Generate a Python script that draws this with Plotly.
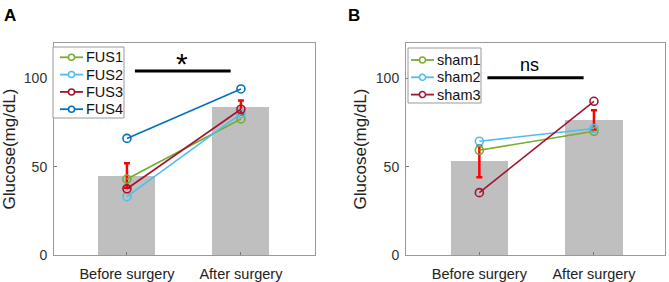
import plotly.graph_objects as go

categories = ["Before surgery", "After surgery"]

# Panel A (FUS)
fus_bar = [45, 83.5]
fus_err = [7, 4]
fus_names = ["FUS1", "FUS2", "FUS3", "FUS4"]
fus1 = [43, 77]
fus2 = [33, 80]
fus3 = [37.5, 82.5]
fus4 = [66, 94]
fus_sig_label = "*"

# Panel B (sham)
sham_bar = [53, 76.5]
sham_err = [9, 5.5]
sham_names = ["sham1", "sham2", "sham3"]
sham1 = [59.3, 70]
sham2 = [64.4, 71.6]
sham3 = [35.3, 87]
sham_sig_label = "ns"

sig_y = [104.2, 100.3]

colors = ["#77AC30", "#4DBEEE", "#A2142F", "#0072BD"]
xpos = [1, 2]

W, H = 669, 282
def px(x):
    return x / W
def py(y):
    return 1 - y / H

fig = go.Figure()

def add_panel(xa, ya, bar, err, series, names):
    fig.add_trace(go.Bar(x=xpos, y=bar, width=0.5, marker=dict(color="#BFBFBF", line=dict(width=0)),
                         xaxis=xa, yaxis=ya, showlegend=False, hoverinfo="skip"))
    fig.add_trace(go.Scatter(x=xpos, y=bar, mode="markers", marker=dict(size=0.1, color="rgba(0,0,0,0)"),
                             error_y=dict(type="data", array=err, color="#FF0000", thickness=2.5, width=3),
                             xaxis=xa, yaxis=ya, showlegend=False, hoverinfo="skip"))
    for s, n, c in zip(series, names, colors):
        fig.add_trace(go.Scatter(x=xpos, y=s, name=n, mode="lines+markers",
                                 line=dict(color=c, width=1.6),
                                 marker=dict(symbol="circle-open", size=8, color=c, line=dict(width=1.6)),
                                 xaxis=xa, yaxis=ya, showlegend=False))

add_panel("x", "y", fus_bar, fus_err, [fus1, fus2, fus3, fus4], fus_names)
add_panel("x2", "y2", sham_bar, sham_err, [sham1, sham2, sham3], sham_names)

# custom MATLAB-like legends
def add_legend(names, box, row0, dy, line_x, text_x):
    x0, x1, y0, y1 = box
    fig.add_shape(type="rect", xref="paper", yref="paper", x0=px(x0), x1=px(x1), y0=py(y1), y1=py(y0),
                  line=dict(color="#999999", width=1), fillcolor="white", layer="above")
    for i, (n, c) in enumerate(zip(names, colors)):
        yy = row0 + i * dy
        fig.add_shape(type="line", xref="paper", yref="paper", x0=px(line_x[0]), x1=px(line_x[1]),
                      y0=py(yy), y1=py(yy), line=dict(color=c, width=1.8), layer="above")
        mx = (line_x[0] + line_x[1]) / 2
        r = 3
        fig.add_shape(type="circle", xref="paper", yref="paper", x0=px(mx - r), x1=px(mx + r),
                      y0=py(yy + r), y1=py(yy - r), line=dict(color=c, width=1.5), fillcolor="white",
                      layer="above")
        fig.add_annotation(x=px(text_x), y=py(yy), xref="paper", yref="paper", text=n, showarrow=False,
                           xanchor="left", yanchor="middle",
                           font=dict(family="Liberation Sans", size=14.5, color="#111111"))

add_legend(fus_names, (53, 124, 47, 118), 57.3, 17.3, (60, 83), 84)
add_legend(sham_names, (408, 481, 48, 103), 60, 17.3, (411, 434), 435)

axis_common = dict(showgrid=False, zeroline=False, showline=True, linecolor="#999999", linewidth=1,
                   mirror=True, ticks="inside", ticklen=3, tickcolor="#777777", automargin=False,
                   tickfont=dict(family="Liberation Sans", size=14, color="#333333"))
xtickfont = dict(family="Liberation Sans", size=14.5, color="#222222")
title_font = dict(family="Liberation Sans", size=17, color="#222222")

ydom = [1 - 255 / H, 1 - 43 / H]
fig.update_layout(
    width=W, height=H, margin=dict(l=0, r=0, t=0, b=0),
    plot_bgcolor="white", paper_bgcolor="white", bargap=0, showlegend=False,
    xaxis=dict(domain=[54 / W, 315 / W], range=[0.36, 2.65], tickvals=xpos, ticktext=categories,
               anchor="y", ticklabelstandoff=6, **{**axis_common, "tickfont": xtickfont}),
    yaxis=dict(domain=ydom, range=[0, 120], tickvals=[0, 50, 100], anchor="x", ticklabelstandoff=3,
               title=dict(text="Glucose(mg/dL)", standoff=4, font=title_font),
               **axis_common),
    xaxis2=dict(domain=[406 / W, 665 / W], range=[0.36, 2.62], tickvals=xpos, ticktext=categories,
                anchor="y2", ticklabelstandoff=6, **{**axis_common, "tickfont": xtickfont}),
    yaxis2=dict(domain=ydom, range=[0, 120], tickvals=[0, 50, 100], anchor="x2", ticklabelstandoff=3,
                title=dict(text="Glucose(mg/dL)", standoff=4, font=title_font),
                **axis_common),
)

# significance lines
fig.add_shape(type="line", x0=1.07, x1=1.91, y0=sig_y[0], y1=sig_y[0], xref="x", yref="y",
              line=dict(color="black", width=3))
fig.add_annotation(x=1.48, y=sig_y[0] + 2, xref="x", yref="y", text=fus_sig_label, showarrow=False,
                   yanchor="bottom", yshift=-15, font=dict(family="Liberation Sans", size=30, color="black"))
fig.add_shape(type="line", x0=1.07, x1=1.91, y0=sig_y[1], y1=sig_y[1], xref="x2", yref="y2",
              line=dict(color="black", width=3))
fig.add_annotation(x=1.44, y=sig_y[1] + 2, xref="x2", yref="y2", text=sham_sig_label, showarrow=False,
                   yanchor="bottom", yshift=-3, font=dict(family="Liberation Sans", size=18, color="black"))

# panel letters
fig.add_annotation(x=px(2), y=py(4), xref="paper", yref="paper", text="<b>A</b>", showarrow=False,
                   xanchor="left", yanchor="top", font=dict(family="Liberation Sans", size=17, color="black"))
fig.add_annotation(x=px(346), y=py(4), xref="paper", yref="paper", text="<b>B</b>", showarrow=False,
                   xanchor="left", yanchor="top", font=dict(family="Liberation Sans", size=17, color="black"))

fig.write_html("out.html", config={"displayModeBar": False},
               post_script="document.body.style.margin='0';document.body.style.padding='0';")
